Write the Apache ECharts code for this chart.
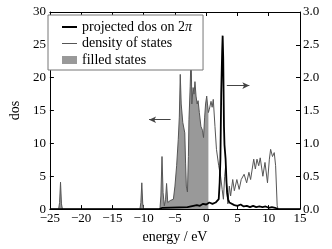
<!DOCTYPE html>
<html>
<head>
<meta charset="utf-8">
<script src="https://cdn.jsdelivr.net/npm/echarts@6/dist/echarts.min.js"></script>
<style>html,body{margin:0;padding:0;background:#fff}#c{width:332px;height:249px}</style>
</head>
<body>
<div id="c"></div>
<script>
// density of states (left axis), energies in eV
var dosE = [-25, -23.6, -23.45, -23.3, -23.15, -23.0, -10.6, -10.45, -10.3, -10.15, -10.0,
  -7.4, -7.25, -7.07, -6.9, -6.7, -6.5, -6.34, -6.15, -5.95, -5.76, -5.5, -5.25, -5.0, -4.73, -4.47, -4.3, -4.15, -4.0,
  -3.75, -3.43, -3.3, -3.18, -3.0, -2.85, -2.76, -2.56, -2.42, -2.3, -2.1, -1.95, -1.8, -1.63, -1.45, -1.3, -1.1,
  -0.85, -0.6, -0.43, -0.25, -0.1, 0.08, 0.2, 0.35, 0.5, 0.77, 0.95, 1.13, 1.4, 1.64, 2.0, 2.3, 2.55, 2.75, 2.95,
  3.1, 3.3, 3.46, 3.7, 3.9, 4.24, 4.5, 4.9, 5.27, 5.6, 6.06, 6.47, 6.83, 7.1, 7.35, 7.6, 7.86, 8.12, 8.4, 8.64,
  9.06, 9.4, 9.8, 10.1, 10.3, 10.6, 10.88, 11.1, 11.35, 11.5, 15];
var dosV = [0, 0, 1.0, 4.1, 0.8, 0, 0, 1.0, 4.0, 0.8, 0,
  0, 2.0, 8.0, 2.5, 0.5, 1.5, 3.9, 1.0, 1.2, 1.3, 1.2, 1.5, 3.5, 6.6, 10.6, 14.0, 20.5, 16.0,
  13.2, 11.6, 7.0, 3.5, 2.6, 8.0, 13.6, 18.7, 24.0, 16.0, 18.5, 17.5, 19.4, 17.2, 16.0, 16.5, 14.7,
  12.6, 12.0, 10.9, 14.0, 16.0, 17.2, 16.0, 14.7, 15.2, 16.4, 15.5, 16.7, 12.6, 9.1, 6.6, 5.0, 3.0, 1.5, 5.0,
  6.5, 3.0, 0.8, 3.5, 2.0, 4.5, 2.8, 4.5, 3.0, 4.5, 5.3, 4.0, 5.6, 4.5, 4.8, 7.6, 6.1, 7.6, 6.6, 7.8,
  5.0, 7.1, 4.0, 7.6, 9.1, 8.0, 8.6, 6.6, 0.5, 0, 0];
// projected dos on 2pi (right axis)
var projE = [-25, -7.5, -7.0, -3.0, -2.7, -1.5, -1.0, -0.5, 0, 0.5, 1.0, 1.5, 1.8, 2.0, 2.15, 2.27, 2.4, 2.55, 2.63,
  2.72, 2.84, 2.92, 3.0, 3.1, 3.25, 3.35, 3.5, 3.7, 4.0, 4.5, 5.0, 5.5, 6.0, 6.5, 7.0, 7.5, 8.0, 8.5, 9.0, 9.5,
  10.0, 10.5, 11.0, 11.5, 15];
var projV = [0, 0, 0.02, 0.03, 0.05, 0.06, 0.05, 0.08, 0.07, 0.1, 0.08, 0.1, 0.12, 0.15, 0.4, 0.76, 1.77, 2.4, 2.64,
  2.3, 1.26, 0.98, 0.95, 0.76, 0.4, 0.25, 0.15, 0.1, 0.08, 0.06, 0.05, 0.07, 0.04, 0.05, 0.03, 0.05, 0.03, 0.04, 0.03, 0.04,
  0.02, 0.03, 0.02, 0, 0];
var fermiCut = 0.35;
var xTicks = {min: -25, max: 15, step: 5};
var yLeftTicks = {min: 0, max: 30, step: 5};
var yRightTicks = {min: 0, max: 3, step: 0.5};
var seriesNames = ['projected dos on 2\u03c0', 'density of states', 'filled states'];
// annotation arrows: [fromE, toE, level on left axis]
var arrowLeft = [-5.7, -9.14, 13.6];
var arrowRight = [3.3, 6.9, 18.8];

var dosData = dosE.map(function (e, i) { return [e, dosV[i]]; });
var projData = projE.map(function (e, i) { return [e, projV[i]]; });
var fillData = dosData.filter(function (p) { return p[0] <= fermiCut; });
fillData.push([fermiCut, 0]);

var FONT = 'Liberation Serif';
var txt = {color: '#000', fontFamily: FONT, fontSize: 13};
var txt14 = {color: '#000', fontFamily: FONT, fontSize: 14};
function minus(v) { return v < 0 ? '\u2212' + Math.abs(v) : String(v); }

var chart = echarts.init(document.getElementById('c'), null, {renderer: 'canvas'});
chart.setOption({
  animation: false,
  backgroundColor: '#fff',
  grid: {left: 43, right: 32, top: 12, bottom: 39, show: false},
  legend: {
    orient: 'vertical', left: 48, top: 15,
    backgroundColor: '#fff', borderColor: '#777', borderWidth: 1, borderRadius: 0,
    padding: [5, 11, 3, 14], itemGap: 2.5, itemWidth: 15, itemHeight: 10,
    symbolKeepAspect: false,
    itemStyle: {borderWidth: 0},
    textStyle: {color: '#000', fontFamily: FONT, fontSize: 14, lineHeight: 14,
      rich: {i: {fontStyle: 'italic', fontFamily: FONT, fontSize: 14, color: '#000'}}},
    formatter: function (n) { return n === seriesNames[0] ? 'projected dos on 2{i|\u03c0}' : n; },
    selectedMode: false,
    data: [
      {name: seriesNames[0], icon: 'path://M0,0 M0,4 L15,4 L15,6 L0,6 Z M15,10'},
      {name: seriesNames[1], icon: 'path://M0,0 M0,4.5 L15,4.5 L15,5.5 L0,5.5 Z M15,10'},
      {name: seriesNames[2], icon: 'path://M0,0 M0,1 L15,1 L15,9 L0,9 Z M15,10'}
    ]
  },
  xAxis: [{
    type: 'value', position: 'bottom', min: xTicks.min, max: xTicks.max, interval: xTicks.step,
    name: 'energy / eV', nameLocation: 'middle', nameGap: 18, nameTextStyle: txt14,
    axisLine: {show: true, onZero: false, lineStyle: {color: '#000', width: 1}},
    axisTick: {show: true, inside: true, length: 4, lineStyle: {color: '#000'}},
    axisLabel: Object.assign({margin: 3, formatter: minus}, txt),
    splitLine: {show: false}
  }, {
    type: 'value', position: 'top', min: xTicks.min, max: xTicks.max, interval: xTicks.step,
    axisLine: {show: true, onZero: false, lineStyle: {color: '#000', width: 1}},
    axisTick: {show: true, inside: true, length: 4, lineStyle: {color: '#000'}},
    axisLabel: {show: false}, splitLine: {show: false}
  }],
  yAxis: [{
    type: 'value', position: 'left', min: yLeftTicks.min, max: yLeftTicks.max, interval: yLeftTicks.step,
    name: 'dos', nameLocation: 'middle', nameGap: 20, nameTextStyle: txt14,
    axisLine: {show: true, onZero: false, lineStyle: {color: '#000', width: 1}},
    axisTick: {show: true, inside: true, length: 4, lineStyle: {color: '#000'}},
    axisLabel: Object.assign({margin: 4}, txt),
    splitLine: {show: false}
  }, {
    type: 'value', position: 'right', min: yRightTicks.min, max: yRightTicks.max, interval: yRightTicks.step,
    axisLine: {show: true, onZero: false, lineStyle: {color: '#000', width: 1}},
    axisTick: {show: true, inside: true, length: 4, lineStyle: {color: '#000'}},
    axisLabel: Object.assign({margin: 3, formatter: function (v) { return v.toFixed(1); }}, txt),
    splitLine: {show: false}
  }],
  series: [{
    name: seriesNames[2], type: 'line', xAxisIndex: 0, yAxisIndex: 0, data: fillData,
    showSymbol: false, symbol: 'none', silent: true, z: 1,
    color: '#999', itemStyle: {color: '#999'},
    lineStyle: {width: 0, color: '#999'},
    areaStyle: {color: '#999', opacity: 1}
  }, {
    name: seriesNames[1], type: 'line', xAxisIndex: 0, yAxisIndex: 0, data: dosData,
    showSymbol: false, symbol: 'none', silent: true, z: 2,
    color: '#555', itemStyle: {color: '#555'},
    lineStyle: {width: 1, color: '#555'},
    markLine: {
      silent: true, animation: false, symbol: ['none', 'arrow'], symbolSize: [5, 7],
      label: {show: false}, lineStyle: {color: '#444', width: 1, type: 'solid'},
      emphasis: {disabled: true},
      data: [
        [{coord: [arrowLeft[0], arrowLeft[2]]}, {coord: [arrowLeft[1], arrowLeft[2]]}],
        [{coord: [arrowRight[0], arrowRight[2]]}, {coord: [arrowRight[1], arrowRight[2]]}]
      ]
    }
  }, {
    name: seriesNames[0], type: 'line', xAxisIndex: 0, yAxisIndex: 1, data: projData,
    showSymbol: false, symbol: 'none', silent: true, z: 3,
    color: '#000', itemStyle: {color: '#000'},
    lineStyle: {width: 1.8, color: '#000'}
  }]
});
</script>
</body>
</html>
